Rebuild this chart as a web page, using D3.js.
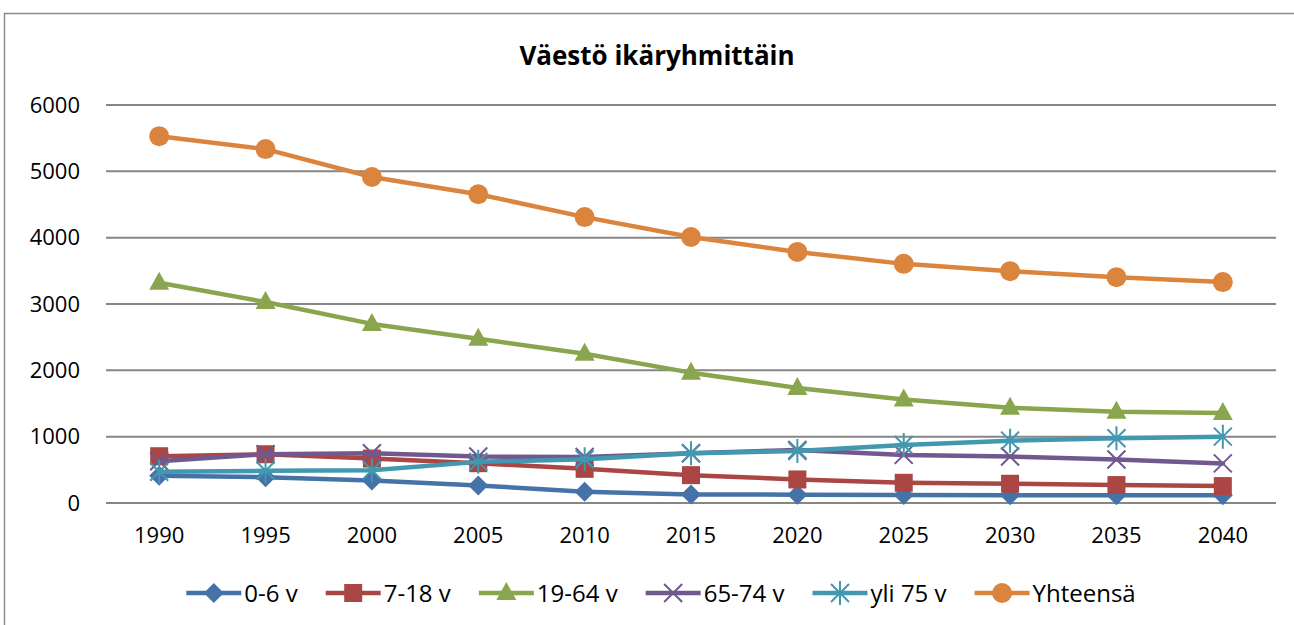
<!DOCTYPE html>
<html>
<head>
<meta charset="utf-8">
<script src="https://cdn.jsdelivr.net/npm/d3@7/dist/d3.min.js"></script>
<style>
  html, body { margin: 0; padding: 0; background: #fff; }
  svg { display: block; font-family: "Open Sans", sans-serif; }
</style>
</head>
<body>
<svg id="chart" width="1294" height="625"></svg>
<script>
const years = ["1990","1995","2000","2005","2010","2015","2020","2025","2030","2035","2040"];
const yTicks = [0, 1000, 2000, 3000, 4000, 5000, 6000];
const seriesNames = ["0-6 v", "7-18 v", "19-64 v", "65-74 v", "yli 75 v", "Yhteensä"];
const v0_6   = [410, 390, 340, 265, 170, 130, 125, 120, 118, 115, 115];
const v7_18  = [705, 735, 670, 600, 515, 420, 355, 305, 290, 270, 255];
const v19_64 = [3320, 3030, 2700, 2475, 2250, 1965, 1735, 1560, 1435, 1375, 1355];
const v65_74 = [630, 735, 750, 700, 695, 750, 800, 725, 700, 655, 597];
const vYli75 = [470, 485, 495, 620, 660, 750, 785, 875, 940, 975, 1000];
const vTotal = [5530, 5335, 4915, 4655, 4310, 4010, 3785, 3605, 3495, 3405, 3330];
const colors = ["#4572A7", "#AA4643", "#89A54E", "#71588F", "#4198AF", "#DB843D"];
const markers = ["diamond", "square", "triangle", "x", "asterisk", "circle"];

const series = [v0_6, v7_18, v19_64, v65_74, vYli75, vTotal].map((vals, i) => ({
  name: seriesNames[i], values: vals, color: colors[i], marker: markers[i]
}));

const svg = d3.select("#chart");

// outer border
svg.append("rect").attr("x", 4.5).attr("y", 13.5).attr("width", 1400).attr("height", 700)
  .attr("fill", "none").attr("stroke", "#8c8c8c").attr("stroke-width", 1.5);

// title
svg.append("text").attr("x", 657).attr("y", 65).attr("text-anchor", "middle")
  .attr("font-size", 26).attr("font-weight", "bold").attr("fill", "#000")
  .text("Väestö ikäryhmittäin");

const plot = { left: 106, right: 1276, top: 105, bottom: 503 };
const x = d3.scaleBand().domain(years).range([plot.left, plot.right]);
const y = d3.scaleLinear().domain([0, 6000]).range([plot.bottom, plot.top]);

// gridlines
svg.append("g").selectAll("line").data(yTicks).join("line")
  .attr("x1", plot.left).attr("x2", plot.right)
  .attr("y1", d => y(d)).attr("y2", d => y(d))
  .attr("stroke", "#868686").attr("stroke-width", 2);

// y labels
const yAxis = d3.axisLeft(y).tickValues(yTicks).tickSize(0).tickPadding(0).tickFormat(d3.format("d"));
const gy = svg.append("g").attr("transform", `translate(80,0)`).call(yAxis);
gy.select(".domain").remove();
gy.selectAll("text").attr("font-size", 22).attr("font-family", "Open Sans").attr("fill", "#000");

// x labels
const xAxis = d3.axisBottom(x).tickSize(0).tickPadding(0);
const gx = svg.append("g").attr("transform", `translate(0,${plot.bottom + 24})`).call(xAxis);
gx.select(".domain").remove();
gx.selectAll("text").attr("font-size", 22).attr("font-family", "Open Sans").attr("fill", "#000");

const cx = d => x(d) + x.bandwidth() / 2;

function drawMarker(g, type, color) {
  if (type === "diamond") {
    g.append("path").attr("d", "M0,-10L10,0L0,10L-10,0Z").attr("fill", color);
  } else if (type === "square") {
    g.append("rect").attr("x", -9).attr("y", -9).attr("width", 18).attr("height", 18).attr("fill", color);
  } else if (type === "triangle") {
    g.append("path").attr("d", "M0,-11L10,7L-10,7Z").attr("fill", color);
  } else if (type === "x") {
    g.append("path").attr("d", "M-9,-9L9,9M-9,9L9,-9").attr("stroke", color).attr("stroke-width", 2).attr("fill", "none");
  } else if (type === "asterisk") {
    g.append("path").attr("d", "M-9,-9L9,9M-9,9L9,-9M0,-12L0,12").attr("stroke", color).attr("stroke-width", 2).attr("fill", "none");
  } else if (type === "circle") {
    g.append("circle").attr("r", 10).attr("fill", color);
  }
}

const line = d3.line().x((d, i) => cx(years[i])).y(d => y(d));

series.forEach(s => {
  const g = svg.append("g");
  g.append("path").datum(s.values).attr("d", line)
    .attr("fill", "none").attr("stroke", s.color).attr("stroke-width", 4.5)
    .attr("stroke-linejoin", "round").attr("stroke-linecap", "round");
  s.values.forEach((v, i) => {
    const m = g.append("g").attr("transform", `translate(${cx(years[i])},${y(v)})`);
    drawMarker(m, s.marker, s.color);
  });
});

// legend
const legend = svg.append("g");
const legY = 593;
let lx = 0;
series.forEach(s => {
  const it = legend.append("g").attr("transform", `translate(${lx},${legY})`);
  it.append("line").attr("x1", 0).attr("x2", 55).attr("y1", 0).attr("y2", 0)
    .attr("stroke", s.color).attr("stroke-width", 4.5);
  const m = it.append("g").attr("transform", "translate(27.5,0)");
  drawMarker(m, s.marker, s.color);
  const t = it.append("text").attr("x", 58).attr("y", 8.5).attr("font-size", 24)
    .attr("fill", "#000").text(s.name);
  const w = t.node().getComputedTextLength();
  lx += 58 + w + 28;
});
const totalW = lx - 28;
legend.attr("transform", `translate(${661 - totalW / 2},0)`);
</script>
</body>
</html>
